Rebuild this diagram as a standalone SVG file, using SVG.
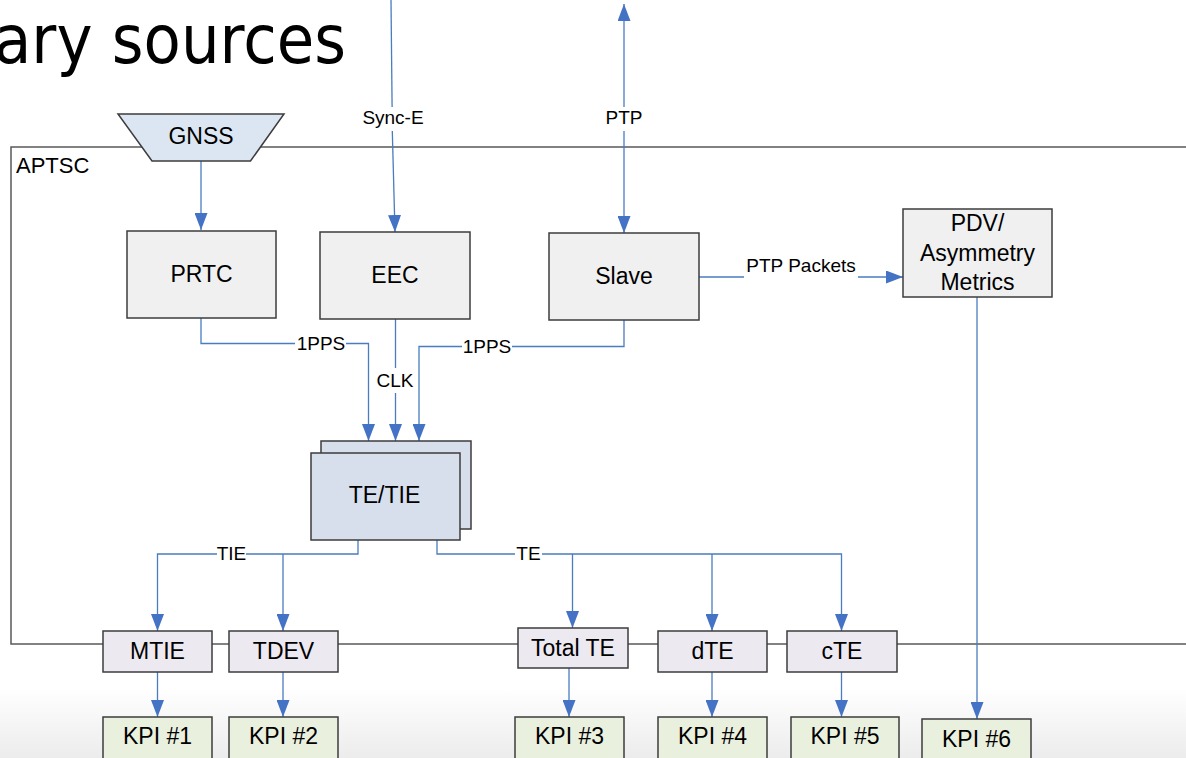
<svg xmlns="http://www.w3.org/2000/svg" width="1186" height="758" viewBox="0 0 1186 758">
  <defs>
    <linearGradient id="floor" x1="0" y1="0" x2="0" y2="1">
      <stop offset="0" stop-color="#ffffff"/>
      <stop offset="1" stop-color="#ececec"/>
    </linearGradient>
    <marker id="arrow" markerUnits="userSpaceOnUse" markerWidth="18" markerHeight="13" viewBox="0 0 18 13" refX="17" refY="6.5" orient="auto-start-reverse">
      <path d="M0,0 L17,6.5 L0,13 z" fill="#4472c4"/>
    </marker>
    <style>
      .frame { fill: none; stroke: #5a5a5a; stroke-width: 1.5; }
      .box { stroke: #3c3c3c; stroke-width: 1.5; }
      .gray { fill: #f0f0f0; }
      .blue { fill: #d6dfeb; }
      .lav { fill: #ece9f1; }
      .green { fill: #eaf0de; }
      .node { font-family: "Liberation Sans", Arial, sans-serif; font-size: 23px; fill: #000; text-anchor: middle; }
      .lbl { font-family: "Liberation Sans", Arial, sans-serif; font-size: 19px; fill: #000; text-anchor: middle; }
      .wire { fill: none; stroke: #4a7cc0; stroke-width: 1.3; }
      .tip { marker-end: url(#arrow); }
    </style>
  </defs>

  <!-- page background with soft floor shading -->
  <rect x="0" y="0" width="1186" height="758" fill="#ffffff"/>
  <rect x="0" y="688" width="1186" height="70" fill="url(#floor)"/>

  <!-- slide heading, running off the left edge -->
  <text x="-6" y="63" font-family="DejaVu Sans, Verdana, sans-serif" font-size="68" textLength="352" lengthAdjust="spacingAndGlyphs" fill="#000">ary sources</text>

  <!-- APTSC enclosure -->
  <g id="aptsc">
    <path class="frame" d="M1190,147 H11 V644 H1190"/>
    <text x="16" y="173" font-family="Liberation Sans, Arial, sans-serif" font-size="22" fill="#000">APTSC</text>
  </g>

  <!-- connectors -->
  <g id="connectors">
    <!-- GNSS to PRTC -->
    <path class="wire tip" d="M201,161 V230"/>
    <!-- Sync-E into EEC -->
    <path class="wire" d="M391,0 L392.1,107"/>
    <path class="wire tip" d="M392.3,131 L395,232"/>
    <text class="lbl" x="393" y="124">Sync-E</text>
    <!-- PTP, two-way -->
    <path class="wire" d="M624,4 V107" marker-start="url(#arrow)"/>
    <path class="wire tip" d="M624,131 V233"/>
    <text class="lbl" x="624" y="124">PTP</text>
    <!-- Slave to PDV/Asymmetry -->
    <path class="wire" d="M699,277 H744"/>
    <path class="wire tip" d="M858,277 H903"/>
    <text class="lbl" x="801" y="272">PTP Packets</text>
    <!-- PRTC 1PPS -->
    <path class="wire" d="M201,318 V343.5 H295"/>
    <path class="wire tip" d="M346,343.5 H368.5 V441"/>
    <text class="lbl" x="321" y="350">1PPS</text>
    <!-- EEC clock -->
    <path class="wire" d="M395.5,319 V368"/>
    <path class="wire tip" d="M395.5,393 V441"/>
    <text class="lbl" x="395" y="387">CLK</text>
    <!-- Slave 1PPS -->
    <path class="wire" d="M624,320 V346.5 H512"/>
    <path class="wire tip" d="M462,346.5 H419 V441"/>
    <text class="lbl" x="487" y="353">1PPS</text>
    <!-- TIE branch -->
    <path class="wire" d="M358,540 V554 H246"/>
    <path class="wire tip" d="M217,554 H157.5 V631"/>
    <path class="wire tip" d="M283,554 V631"/>
    <text class="lbl" x="231.5" y="560">TIE</text>
    <!-- TE branch -->
    <path class="wire" d="M437,540 V554 H515"/>
    <path class="wire" d="M542,554 H841.5 V600"/>
    <path class="wire tip" d="M841.5,600 V631"/>
    <path class="wire tip" d="M572.5,554 V628"/>
    <path class="wire tip" d="M712,554 V631"/>
    <text class="lbl" x="528.5" y="560">TE</text>
    <!-- metrics to KPIs -->
    <path class="wire tip" d="M157.5,672 V717"/>
    <path class="wire tip" d="M283,672 V717"/>
    <path class="wire tip" d="M569,668 V717"/>
    <path class="wire tip" d="M712,672 V717"/>
    <path class="wire tip" d="M841.5,672 V717"/>
    <path class="wire tip" d="M977,297 V719"/>
  </g>

  <!-- GNSS source -->
  <g id="gnss">
    <polygon class="box" points="118,114 284,114 250.5,161 152,161" fill="#dce6f2"/>
    <text class="node" x="201" y="144">GNSS</text>
  </g>

  <!-- clock / timing blocks -->
  <g id="prtc">
    <rect class="box gray" x="127" y="231" width="149" height="87"/>
    <text class="node" x="201.5" y="282">PRTC</text>
  </g>
  <g id="eec">
    <rect class="box gray" x="320" y="232" width="150" height="87"/>
    <text class="node" x="395" y="283">EEC</text>
  </g>
  <g id="slave">
    <rect class="box gray" x="549" y="233" width="150" height="87"/>
    <text class="node" x="624" y="284">Slave</text>
  </g>
  <g id="pdv">
    <rect class="box gray" x="903" y="209" width="149" height="88"/>
    <text class="node" x="977.5" y="231">PDV/</text>
    <text class="node" x="977.5" y="261">Asymmetry</text>
    <text class="node" x="977.5" y="290">Metrics</text>
  </g>

  <!-- TE/TIE measurement (stacked) -->
  <g id="te-tie">
    <rect class="box blue" x="321" y="441" width="150" height="88"/>
    <rect class="box blue" x="311" y="453" width="149" height="87"/>
    <text class="node" x="384.5" y="503">TE/TIE</text>
  </g>

  <!-- derived metrics -->
  <g id="mtie">
    <rect class="box lav" x="103" y="631" width="109" height="41"/>
    <text class="node" x="157.5" y="659">MTIE</text>
  </g>
  <g id="tdev">
    <rect class="box lav" x="229" y="631" width="109" height="41"/>
    <text class="node" x="283.5" y="659">TDEV</text>
  </g>
  <g id="total-te">
    <rect class="box lav" x="518" y="628" width="110" height="40"/>
    <text class="node" x="573" y="656">Total TE</text>
  </g>
  <g id="dte">
    <rect class="box lav" x="658" y="631" width="109" height="41"/>
    <text class="node" x="712.5" y="659">dTE</text>
  </g>
  <g id="cte">
    <rect class="box lav" x="787" y="631" width="110" height="41"/>
    <text class="node" x="842" y="659">cTE</text>
  </g>

  <!-- KPIs -->
  <g id="kpi1">
    <rect class="box green" x="103" y="717" width="109" height="42"/>
    <text class="node" x="157.5" y="744">KPI #1</text>
  </g>
  <g id="kpi2">
    <rect class="box green" x="229" y="717" width="109" height="42"/>
    <text class="node" x="283.5" y="744">KPI #2</text>
  </g>
  <g id="kpi3">
    <rect class="box green" x="515" y="717" width="109" height="42"/>
    <text class="node" x="569.5" y="744">KPI #3</text>
  </g>
  <g id="kpi4">
    <rect class="box green" x="658" y="717" width="109" height="42"/>
    <text class="node" x="712.5" y="744">KPI #4</text>
  </g>
  <g id="kpi5">
    <rect class="box green" x="791" y="717" width="108" height="42"/>
    <text class="node" x="845" y="744">KPI #5</text>
  </g>
  <g id="kpi6">
    <rect class="box green" x="922" y="719" width="109" height="42"/>
    <text class="node" x="976.5" y="747">KPI #6</text>
  </g>
</svg>
